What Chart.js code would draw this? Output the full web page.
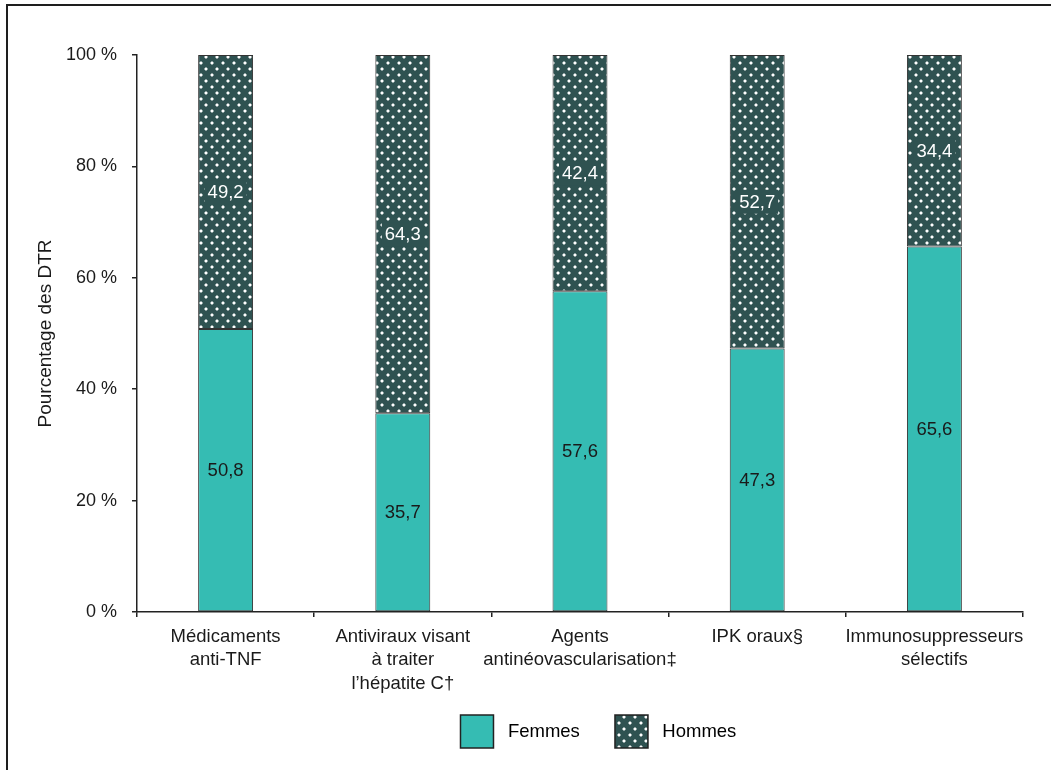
<!DOCTYPE html>
<html lang="fr">
<head>
<meta charset="utf-8">
<script src="https://cdn.jsdelivr.net/npm/chart.js@4.4.1/dist/chart.umd.min.js"></script>
<style>
html, body { margin: 0; padding: 0; background: #fff; }
#wrap { position: relative; width: 1051px; height: 770px; overflow: hidden; }
#frame { position: absolute; left: 6px; top: 4px; width: 1100px; height: 800px;
         border-left: 2px solid #1e1e1e; border-top: 2px solid #1e1e1e; }
canvas { position: absolute; left: 0; top: 0; }
</style>
</head>
<body>
<div id="wrap"><div id="frame"></div><canvas id="c" width="1051" height="770"></canvas></div>
<script>
// Drug classes (multi-line axis labels)
const categories = [
  ['Médicaments', 'anti-TNF'],
  ['Antiviraux visant', 'à traiter', 'l’hépatite C†'],
  ['Agents', 'antinéovascularisation‡'],
  ['IPK oraux§'],
  ['Immunosuppresseurs', 'sélectifs']
];
// Share of DTR by sex, in %
const femmes = [50.8, 35.7, 57.6, 47.3, 65.6];
const hommes = [49.2, 64.3, 42.4, 52.7, 34.4];
const seriesNames = ['Femmes', 'Hommes'];
const yTicks = [0, 20, 40, 60, 80, 100];

const FONT = '"Liberation Sans", Arial, sans-serif';
const TEXT = '#1a1a1a';
const TEAL = '#35bcb3';
const DARK = '#2f5251';

// Dark fill with a staggered white dot texture
function dotPattern() {
  const c = document.createElement('canvas');
  c.width = 11; c.height = 12;
  const g = c.getContext('2d');
  g.fillStyle = DARK;
  g.fillRect(0, 0, 11, 12);
  const dot = (x, y) => {
    g.fillStyle = '#ffffff';
    g.fillRect(x, y, 2, 2);
    g.fillStyle = 'rgba(255,255,255,0.45)';
    g.fillRect(x, y - 1, 2, 1);
    g.fillRect(x, y + 2, 2, 1);
    g.fillRect(x - 1, y, 1, 2);
    g.fillRect(x + 2, y, 1, 2);
  };
  dot(2, 2);
  dot(7, 8);
  return g.createPattern(c, 'repeat');
}
const hatch = dotPattern();

// Value labels centred in each segment; the dotted segments get a solid backing
const valueLabels = {
  id: 'valueLabels',
  afterDatasetsDraw(chart) {
    const ctx = chart.ctx;
    ctx.save();
    ctx.font = '18.5px ' + FONT;
    ctx.textAlign = 'center';
    ctx.textBaseline = 'middle';
    chart.data.datasets.forEach((ds, di) => {
      chart.getDatasetMeta(di).data.forEach((bar, i) => {
        const txt = ds.data[i].toFixed(1).replace('.', ',');
        const p = bar.getProps(['x', 'y', 'base'], true);
        const cy = (p.y + p.base) / 2;
        if (di === 1) {
          const w = ctx.measureText(txt).width;
          ctx.fillStyle = DARK;
          ctx.fillRect(p.x - w / 2 - 3, cy - 12, w + 6, 24);
          ctx.fillStyle = '#ffffff';
        } else {
          ctx.fillStyle = TEXT;
        }
        ctx.fillText(txt, p.x, cy + 1);
      });
    });
    ctx.restore();
  }
};

// Place the legend row centred under the bars, just below the axis labels
const legendShift = {
  id: 'legendShift',
  afterLayout(chart) {
    const lg = chart.legend;
    const shift = 601 - (lg.left + lg.right) / 2;
    lg.left += shift;
    lg.right += shift;
    lg.top -= 12;
    lg.bottom -= 12;
  }
};

new Chart(document.getElementById('c'), {
  type: 'bar',
  data: {
    labels: categories,
    datasets: [
      { label: seriesNames[0], data: femmes, backgroundColor: TEAL,
        borderColor: '#333', borderWidth: 1, borderSkipped: false },
      { label: seriesNames[1], data: hommes, backgroundColor: hatch,
        borderColor: '#333', borderWidth: 1, borderSkipped: false }
    ]
  },
  options: {
    responsive: false,
    animation: false,
    devicePixelRatio: 1,
    layout: { padding: { left: 33, right: 28, top: 55, bottom: 0 } },
    datasets: { bar: { categoryPercentage: 1, barPercentage: 0.31 } },
    scales: {
      x: {
        stacked: true,
        grid: { display: true, drawOnChartArea: false, drawTicks: true, tickLength: 5,
                color: '#222', lineWidth: 1.5, offset: true },
        border: { display: true, color: '#222', width: 1.5 },
        ticks: { color: TEXT, font: { family: FONT, size: 18.5, lineHeight: 1.27 },
                 padding: 8, maxRotation: 0, autoSkip: false },
        afterFit: s => { s.height = 85; }
      },
      y: {
        stacked: true,
        min: 0,
        max: 100,
        afterBuildTicks: s => { s.ticks = yTicks.map(v => ({ value: v })); },
        grid: { display: true, drawOnChartArea: false, drawTicks: true, tickLength: 5,
                color: '#222', lineWidth: 1.5 },
        border: { display: true, color: '#222', width: 1.5 },
        ticks: { color: TEXT, font: { family: FONT, size: 18 }, padding: 15,
                 callback: v => v + ' %' },
        title: { display: true, text: 'Pourcentage des DTR', color: TEXT,
                 font: { family: FONT, size: 19 }, padding: { top: 1, bottom: 0 } },
        afterFit: s => { s.width = 104; }
      }
    },
    plugins: {
      tooltip: { enabled: false },
      legend: {
        position: 'bottom',
        labels: {
          boxWidth: 33, boxHeight: 33, padding: 30, color: TEXT,
          font: { family: FONT, size: 18.5 },
          generateLabels: chart => chart.data.datasets.map((ds, i) => ({
            text: ' ' + ds.label + ' ',
            fillStyle: ds.backgroundColor,
            strokeStyle: '#222',
            lineWidth: 1.5,
            hidden: false,
            datasetIndex: i
          }))
        }
      }
    }
  },
  plugins: [valueLabels, legendShift]
});
</script>
</body>
</html>
